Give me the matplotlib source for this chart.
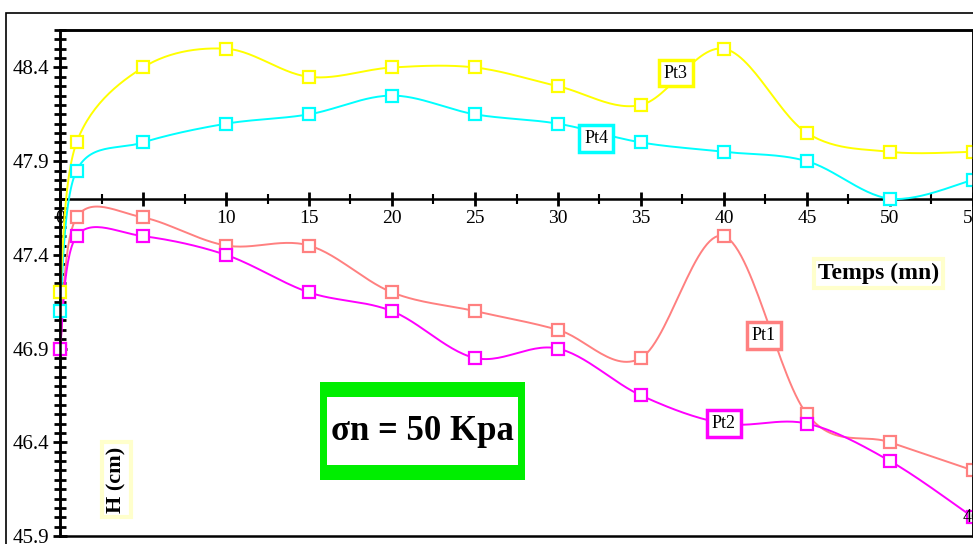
import numpy as np
import matplotlib.pyplot as plt
from matplotlib.patches import Rectangle

plt.rcParams['font.family'] = ['Liberation Serif', 'DejaVu Serif']

temps = [0, 1, 5, 10, 15, 20, 25, 30, 35, 40, 45, 50, 55]
pt1 = [46.9, 47.6, 47.6, 47.45, 47.45, 47.2, 47.1, 47.0, 46.85, 47.5, 46.55, 46.4, 46.25]
pt2 = [46.9, 47.5, 47.5, 47.4, 47.2, 47.1, 46.85, 46.9, 46.65, 46.5, 46.5, 46.3, 46.0]
pt3 = [47.2, 48.0, 48.4, 48.5, 48.35, 48.4, 48.4, 48.3, 48.2, 48.5, 48.05, 47.95, 47.95]
pt4 = [47.1, 47.85, 48.0, 48.1, 48.15, 48.25, 48.15, 48.1, 48.0, 47.95, 47.9, 47.7, 47.8]

y_ticks = [45.9, 46.4, 46.9, 47.4, 47.9, 48.4]
x_ticks = [0, 5, 10, 15, 20, 25, 30, 35, 40, 45, 50, 55]


def smooth(x, y, n=30):
    # excel-like smoothed line (bezier through points), done in pixel-ish scale
    sx, sy = 16.6, 186.0
    p = np.column_stack([np.array(x) * sx, np.array(y) * sy])
    p = np.vstack([p[0], p, p[-1]])
    out = []
    for i in range(1, len(p) - 2):
        p0, p1, p2, p3 = p[i - 1], p[i], p[i + 1], p[i + 2]
        c1 = p1 + (p2 - p0) / 6
        c2 = p2 - (p3 - p1) / 6
        t = np.linspace(0, 1, n)[:, None]
        seg = (1 - t) ** 3 * p1 + 3 * (1 - t) ** 2 * t * c1 + 3 * (1 - t) * t ** 2 * c2 + t ** 3 * p2
        out.append(seg)
    out = np.vstack(out)
    return out[:, 0] / sx, out[:, 1] / sy


fig = plt.figure(figsize=(9.73, 5.44), dpi=100)
ax = fig.add_axes([60 / 973, 1 - 536 / 544, 913 / 973, 506 / 544])

series = [(pt1, '#FF8080'), (pt2, '#FF00FF'), (pt4, '#00FFFF'), (pt3, '#FFFF00')]
for vals, col in series:
    sx, sy = smooth(temps, vals)
    ax.plot(sx, sy, color=col, lw=1.4, zorder=3)
    ax.plot(temps, vals, ls='none', marker='s', ms=9, mfc='white', mec=col, mew=1.6,
            zorder=4, clip_on=False)

ax.set_xlim(0, 55)
ax.set_ylim(45.9, 48.6)

ax.spines['bottom'].set_position(('data', 47.7))
for s in ax.spines.values():
    s.set_linewidth(1.8)
ax.add_patch(Rectangle((0, 0), 1, 1, transform=ax.transAxes, fill=False,
                       lw=1.8, ec='black', zorder=5, clip_on=False))

ax.set_yticks(y_ticks)
ax.set_yticks(np.arange(45.9, 48.61, 0.05), minor=True)
ax.set_xticks(x_ticks)
ax.set_xticks(np.arange(0, 55.1, 2.5), minor=True)
ax.tick_params(axis='y', which='major', direction='inout', length=10, width=2,
               labelsize=15, pad=3)
ax.tick_params(axis='y', which='minor', direction='inout', length=8, width=2)
ax.tick_params(axis='x', which='major', direction='inout', length=10, width=2,
               labelsize=14, pad=3)
ax.tick_params(axis='x', which='minor', direction='inout', length=7, width=1.5)
ax.set_yticklabels([f'{v:.1f}' for v in y_ticks])

# labels on the curves
lab = dict(fontsize=13, ha='center', va='center', zorder=6)
ax.text(37.1, 48.37, 'Pt3', bbox=dict(fc='white', ec='#FFFF00', lw=2.5, pad=3.5), **lab)
ax.text(32.3, 48.02, 'Pt4', bbox=dict(fc='white', ec='#00FFFF', lw=2.5, pad=3.5), **lab)
ax.text(42.4, 46.97, 'Pt1', bbox=dict(fc='white', ec='#FF8080', lw=2.5, pad=3.5), **lab)
ax.text(40.0, 46.5, 'Pt2', bbox=dict(fc='white', ec='#FF00FF', lw=2.5, pad=3.5), **lab)
ax.text(54.4, 46.0, '46', fontsize=13, ha='left', va='center', zorder=6, clip_on=False)

ax.text(49.3, 47.3, 'Temps (mn)', fontsize=17, fontweight='bold', ha='center', va='center',
        bbox=dict(fc='white', ec='#FFFFCC', lw=3, pad=3), zorder=6)
ax.text(3.4, 46.2, 'H (cm)', fontsize=16, fontweight='bold', rotation=90, ha='center',
        va='center', bbox=dict(fc='white', ec='#FFFFCC', lw=3, pad=3), zorder=6)

# sigma box (green frame, thicker top/bottom)
W, H = 973, 544
fig.patches.append(Rectangle((320 / W, 1 - 480 / H), 205 / W, 98 / H,
                             transform=fig.transFigure, fc='#00EE00', ec='none', zorder=6))
fig.patches.append(Rectangle((327 / W, 1 - 465 / H), 191 / W, 68 / H,
                             transform=fig.transFigure, fc='white', ec='none', zorder=7))
fig.text(422.5 / W, 1 - 432 / H, '\u03c3n = 50 Kpa', fontsize=25, fontweight='bold',
         ha='center', va='center', zorder=8)

fig.patches.append(Rectangle((6 / W, -0.1), 1.0, 1.1 - 13 / H, transform=fig.transFigure,
                             fill=False, lw=1.2, ec='black'))

fig.savefig('out.png', dpi=100)
